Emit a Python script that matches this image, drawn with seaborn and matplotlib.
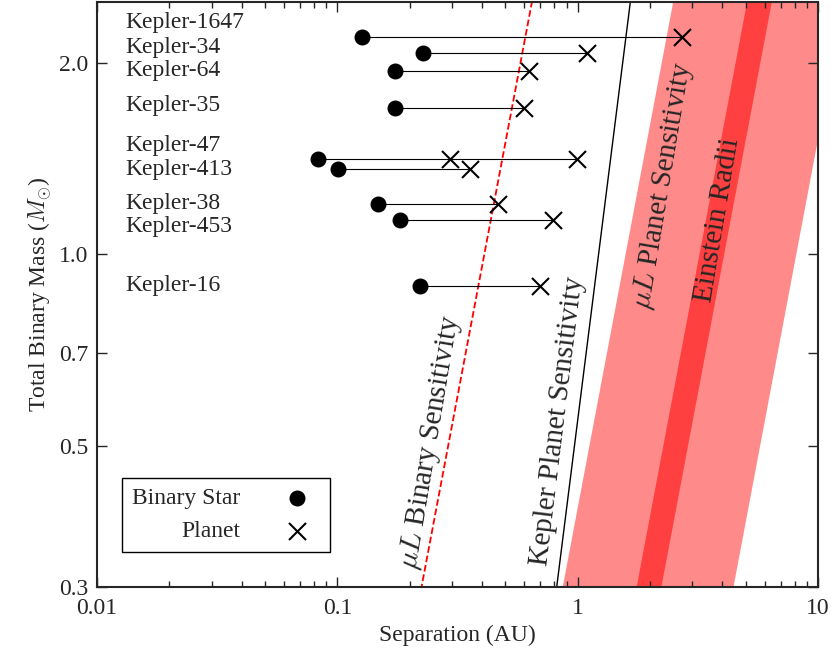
import numpy as np
import pandas as pd
import matplotlib
matplotlib.use("Agg")
import matplotlib.pyplot as plt
import seaborn as sns
from matplotlib.ticker import FixedLocator, FixedFormatter, NullLocator, LogLocator

names = ["Kepler-1647", "Kepler-34", "Kepler-64", "Kepler-35", "Kepler-47",
         "Kepler-413", "Kepler-38", "Kepler-453", "Kepler-16"]
mass = [2.19, 2.07, 1.94, 1.70, 1.41, 1.36, 1.20, 1.13, 0.89]
label_y = [2.31, 2.11, 1.94, 1.71, 1.48, 1.36, 1.20, 1.107, 0.894]
binary_sep = [0.127, 0.228, 0.173, 0.174, 0.083, 0.101, 0.147, 0.183, 0.22]
planet_sep = [[2.71], [1.09], [0.63], [0.60], [0.294, 0.99], [0.355], [0.465], [0.787], [0.70]]

mL_binary_c = 0.224    # x at M=0.3, scales as M^0.5
kepler_c = 0.818       # scales as M^(1/3)
pink_lo, pink_hi = 0.867, 4.45
dark_lo, dark_hi = 1.76, 2.23

sns.set_theme(style="ticks")
plt.rcParams["font.family"] = ["Liberation Serif", "DejaVu Serif"]
plt.rcParams["mathtext.fontset"] = "cm"

fig = plt.figure(figsize=(8.31, 6.52), dpi=100)
ax = fig.add_axes([97/831, 65/652, (818-97)/831, (587-2)/652])
ax.set_xscale("log"); ax.set_yscale("log")

M = np.geomspace(0.25, 3.0, 50)
s = np.sqrt(M/0.3)
ax.fill_betweenx(M, pink_lo*s, pink_hi*s, color="#ff8a8a", lw=0, zorder=0)
ax.fill_betweenx(M, dark_lo*s, dark_hi*s, color="#ff4040", lw=0, zorder=0)
ax.plot(mL_binary_c*s, M, "--", color="red", lw=1.3)
ax.plot(kepler_c*(M/0.3)**(1/3), M, "-", color="black", lw=1.0)

rows = []
for n, m, ly, b, ps in zip(names, mass, label_y, binary_sep, planet_sep):
    ax.plot([b, max(ps)], [m, m], color="black", lw=0.8, zorder=2)
    for p in ps:
        rows.append(dict(sep=p, mass=m, kind="Planet"))
    rows.insert(0, dict(sep=b, mass=m, kind="Binary Star"))
    ax.text(0.0131, ly, n, fontsize=17, va="center", ha="left")
df = pd.DataFrame(rows)
bdf = df[df.kind == "Binary Star"]; pdf = df[df.kind == "Planet"]
ax.scatter(bdf.sep, bdf.mass, marker="o", s=110, color="black", zorder=3, label="Binary Star")
ax.scatter(pdf.sep, pdf.mass, marker="x", s=150, color="black", linewidths=1.5, zorder=3, label="Planet")

ax.set_xlim(0.01, 10); ax.set_ylim(0.3, 2.49)
ax.yaxis.set_major_locator(FixedLocator([0.3, 0.5, 0.7, 1.0, 2.0]))
ax.yaxis.set_major_formatter(FixedFormatter(["0.3", "0.5", "0.7", "1.0", "2.0"]))
ax.yaxis.set_minor_locator(NullLocator())
ax.xaxis.set_major_locator(FixedLocator([0.01, 0.1, 1, 10]))
ax.xaxis.set_major_formatter(FixedFormatter(["0.01", "0.1", "1", "10"]))
ax.xaxis.set_minor_locator(LogLocator(subs=np.arange(2, 10)))
ax.tick_params(which="both", direction="in", top=True, right=True, labelsize=17)
ax.tick_params(axis="x", pad=8)
ax.tick_params(axis="y", pad=6)
ax.tick_params(which="major", length=7, width=1)
ax.tick_params(which="minor", length=4)
for sp in ax.spines.values():
    sp.set_linewidth(1.5)
ax.set_xlabel("Separation (AU)", fontsize=17)
ax.set_ylabel(r"Total Binary Mass ($M_{\odot}$)", fontsize=17)

ax.text(0.245, 0.507, r"$\mu L$ Binary Sensitivity", rotation=80.5, fontsize=21, ha="center", va="center", rotation_mode="anchor")
ax.text(0.826, 0.546, "Kepler Planet Sensitivity", rotation=83, fontsize=21, ha="center", va="center", rotation_mode="anchor")
ax.text(2.26, 1.28, r"$\mu L$ Planet Sensitivity", rotation=80.5, fontsize=21, ha="center", va="center", rotation_mode="anchor")
ax.text(3.82, 1.13, "Einstein Radii", rotation=80.5, fontsize=21, ha="center", va="center", rotation_mode="anchor")

leg = ax.legend(loc="lower left", bbox_to_anchor=(0.035, 0.06), markerfirst=False, fontsize=17,
                fancybox=False, edgecolor="black", framealpha=1, borderpad=0.4, handletextpad=1.4,
                borderaxespad=0)
leg.get_frame().set_linewidth(1.0)

fig.savefig("out.png", dpi=100)
